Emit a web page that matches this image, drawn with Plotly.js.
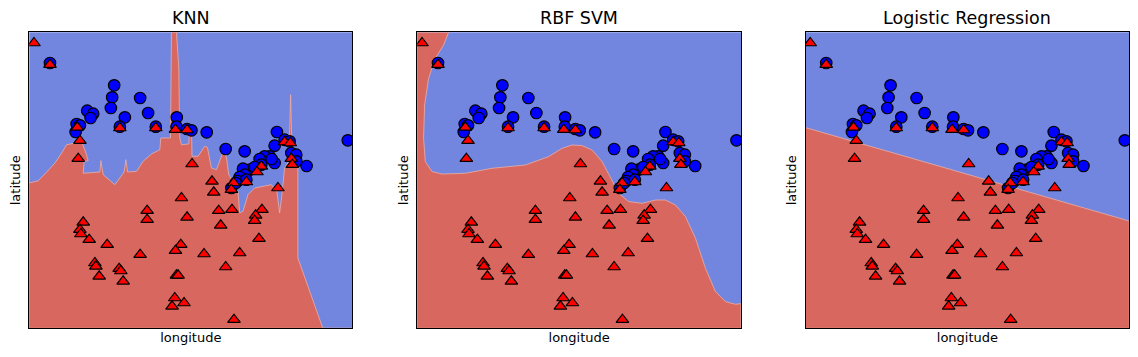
<!DOCTYPE html>
<html>
<head>
<meta charset="utf-8">
<script src="https://cdn.plot.ly/plotly-3.0.1.min.js"></script>
<style>html,body{margin:0;padding:0;background:#fff;}#chart{width:1138px;height:357px;}</style>
</head>
<body>
<div id="chart"></div>
<script>
// ---- data (longitude / latitude in plot units) ----
const panelTitles = ["KNN", "RBF SVM", "Logistic Regression"];
const xLabel = "longitude";
const yLabel = "latitude";

// class 1 (blue circles)
const blueX = [20.7,85,83,81.7,111,119,95.7,58,64,61.4,47.4,50.7,46.4,90.7,126.7,147.7,147.4,158,162.4,177.7,196.7,215.7,248,319,277.7,245.7,240.7,235.7,230.7,245.7,232.4,220.7,214,215.7,210.7,202.4,255.7,260.7,262.4,267.4,267.4,208.7,217.4,225.7,206.7,242.7];
const blueY = [265.3,243,231,220.3,230.3,215.3,211,217.6,214.6,210.3,204.3,203,196.3,201.6,201.6,211,201.6,199.3,198,196,179.3,177,196.3,188,162.3,182.6,172,172,169.3,165.3,163.6,158.6,159.6,153.6,151.3,140.3,188.6,187,175.3,173.6,167,147.3,148.6,161.3,145.3,169.3];

// class 0 (red triangles)
const redX = [4.7,20.7,48,50.7,49,90.7,126.7,146.4,158,163,255.7,261.4,262.4,263.4,232.4,228,217.4,204.7,202.4,249,183,184.7,152.4,118,118,158,189.7,203,233,226.7,225.7,191.7,230,54,50.7,51.7,60,78,111,151.7,146.4,175,210.7,196.7,65.7,66.7,70,90,91.7,94,147.4,149,145.7,155,143,205];
const redY = [285.3,263.6,201,187.6,169.6,200.3,200.3,198.6,198.3,164.3,186.3,185.3,169.6,163.6,162,156.3,146.3,145.3,138.6,140.3,147,136,130.3,117.6,108.6,111,117.6,118.6,118.6,113,107.6,103,89.6,106,98.6,94.3,88.6,83.6,73.6,83.6,77.6,74.3,75.3,61.3,65.3,62,52,59.6,57.3,47,53,53,30.3,25.3,22,8.6];

// decision boundaries (upper edge of the red region)
const knnBX = [0,9,17.4,25.7,32.4,37.4,49,53,56.4,59,55,54,70.7,71.7,74,85.7,95,96.7,98.4,107.4,114,122.4,130.7,131.7,141.4,142.4,147.4,149.7,150.7,152.4,159.7,160.7,162.4,163,169,175.7,178.4,182.4,187.4,193,195.7,198,199.7,204,209,210.7,214,219,225.7,242.4,248,250.7,253,255.7,260,261.7,263.4,269,269,294];
const knnBY = [145.3,147.6,156.3,165.3,175.3,183.6,186,185.3,176.3,167.6,167,155,156.3,167.6,153.6,143.6,156.3,168.6,156.3,157,167,174.3,178.6,190.3,190.3,296,296,260.3,190.3,183.6,184.3,202,202,172,172,182,181,160.3,158.6,173.6,178.6,167,153.6,147,137,115.3,117,133.6,140.3,143.6,137,115.3,133.6,160.3,167,233.6,167,167,70.3,0];

const svmBX = [31.3,26.3,18,11.3,7.3,6.3,8,14.7,24.7,48,74.7,108,131.3,144.7,154.7,164.7,174.7,184.7,193,201.3,211.3,224.7,238,248,258,268,278,288,298,308,318,323.5];
const svmBY = [296,283.3,270,250,223.3,190,166.7,156.7,154.3,155,160,163.3,171.7,180,183.3,182.7,178.3,166.7,150,135,126.7,125,128.3,128.3,123.3,111.7,90,60,36.7,26.7,24,24.7];

const lrBX = [0, 323.5];
const lrBY = [200.7, 107.3];

// ---- drawing ----
const X0 = 0, X1 = 323.5, Y0 = 0, Y1 = 296;
const BLUE_BG = "#7286e0", RED_BG = "#d8685f";

function closeBelow(bx, by) {
  const xs = bx.slice(), ys = by.slice();
  const last = xs.length - 1;
  if (xs[last] < X1 && ys[last] > Y0) { xs.push(X1); ys.push(ys[last]); }
  xs.push(X1, X0); ys.push(Y0, Y0);
  if (xs[0] > X0) { xs.unshift(X0); ys.unshift(by[0]); }
  return [xs, ys];
}
function svmRegion(bx, by) {
  const xs = [X0].concat(bx, [X1, X0]);
  const ys = [Y1].concat(by, [Y0, Y0]);
  return [xs, ys];
}

const regions = [closeBelow(knnBX, knnBY), svmRegion(svmBX, svmBY), closeBelow(lrBX, lrBY)];
const traces = [];
const layout = {
  width: 1138, height: 357,
  margin: {l: 0, r: 0, t: 0, b: 0},
  paper_bgcolor: "#ffffff",
  plot_bgcolor: BLUE_BG,
  showlegend: false,
  hovermode: false,
  font: {family: "DejaVu Sans, sans-serif", color: "#000"},
  annotations: []
};
const xDomains = [[29.3/1138, 352.3/1138], [417.3/1138, 741/1138], [805.5/1138, 1129.3/1138]];
const yDomain = [1 - 328.3/357, 1 - 32.3/357];

for (let i = 0; i < 3; i++) {
  const sfx = i === 0 ? "" : String(i + 1);
  const xa = "x" + sfx, ya = "y" + sfx;
  traces.push({type: "scatter", mode: "lines", x: regions[i][0], y: regions[i][1], xaxis: xa, yaxis: ya,
    fill: "toself", fillcolor: RED_BG, line: {width: 0.8, color: "#eab0a8"}, hoverinfo: "skip"});
  traces.push({type: "scatter", mode: "markers", x: blueX, y: blueY, xaxis: xa, yaxis: ya,
    marker: {symbol: "circle", size: 11.5, color: "#0000ff", line: {color: "#000", width: 1.2}}});
  traces.push({type: "scatter", mode: "markers", x: redX, y: redY, xaxis: xa, yaxis: ya,
    marker: {symbol: "triangle-up", size: 11, color: "#ff0000", line: {color: "#000", width: 1.2}}});
  layout["xaxis" + sfx] = {domain: xDomains[i], range: [X0, X1], anchor: ya,
    showgrid: false, zeroline: false, showticklabels: false, ticks: "",
    showline: true, mirror: true, linecolor: "#000", linewidth: 1,
    title: {text: xLabel, font: {size: 13, family: "DejaVu Sans"}, standoff: 4}};
  layout["yaxis" + sfx] = {domain: yDomain, range: [Y0, Y1], anchor: xa,
    showgrid: false, zeroline: false, showticklabels: false, ticks: "",
    showline: true, mirror: true, linecolor: "#000", linewidth: 1,
    title: {text: yLabel, font: {size: 13, family: "DejaVu Sans"}, standoff: 4}};
  layout.annotations.push({text: panelTitles[i], xref: "paper", yref: "paper",
    x: (xDomains[i][0] + xDomains[i][1]) / 2, y: 1 - 18/357, xanchor: "center", yanchor: "middle",
    showarrow: false, font: {size: 17.5, family: "DejaVu Sans", color: "#000"}});
}

Plotly.newPlot("chart", traces, layout, {staticPlot: true, displayModeBar: false});
</script>
</body>
</html>
